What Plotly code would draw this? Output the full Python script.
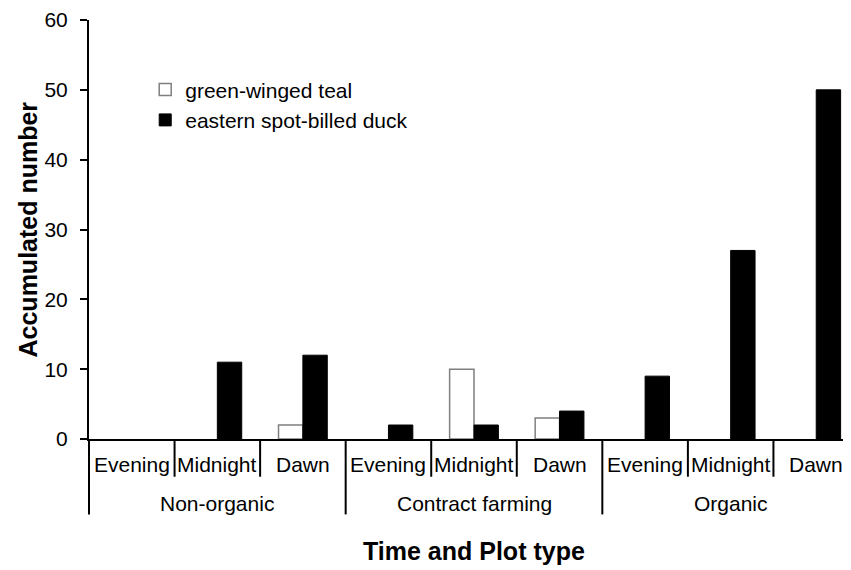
import plotly.graph_objects as go

groups = ["Non-organic", "Contract farming", "Organic"]
times = ["Evening", "Midnight", "Dawn"]
teal = [0, 0, 2, 0, 10, 3, 0, 0, 0]
duck = [0, 11, 12, 2, 2, 4, 9, 27, 50]
y_ticks = [0, 10, 20, 30, 40, 50, 60]

FONT = "Liberation Sans, Arial, sans-serif"
FS = 21
n = len(groups) * len(times)
xpos = list(range(n))


def nz(vals):
    # zero-height bars are not drawn in the reference
    return [v if v else None for v in vals]


fig = go.Figure()
fig.add_trace(go.Bar(x=xpos, y=nz(teal), name="green-winged teal",
                     marker=dict(color="white", line=dict(color="#7f7f7f", width=1.5))))
fig.add_trace(go.Bar(x=xpos, y=nz(duck), name="eastern spot-billed duck",
                     marker=dict(color="black", line=dict(color="black", width=1))))

shapes = []
annotations = []
for gi, g in enumerate(groups):
    x0 = gi * len(times) - 0.5
    if gi > 0:
        shapes.append(dict(type="line", xref="x", yref="paper", x0=x0, x1=x0,
                           y0=0, y1=-0.18, line=dict(color="black", width=2)))
    center = gi * len(times) + (len(times) - 1) / 2
    annotations.append(dict(x=center, y=0, xref="x", yref="paper", text=g,
                            showarrow=False, yshift=-64, yanchor="middle",
                            font=dict(size=FS, color="black", family=FONT)))
    for ti, t in enumerate(times):
        idx = gi * len(times) + ti
        annotations.append(dict(x=idx, y=0, xref="x", yref="paper", text=t,
                                showarrow=False, yshift=-25, yanchor="middle",
                                font=dict(size=FS, color="black", family=FONT)))
        if ti > 0:
            xs = idx - 0.5
            shapes.append(dict(type="line", xref="x", yref="paper", x0=xs, x1=xs,
                               y0=0, y1=-0.09, line=dict(color="black", width=2)))
shapes.append(dict(type="line", xref="paper", yref="paper", x0=0, x1=0,
                   y0=0, y1=-0.18, line=dict(color="black", width=2)))

annotations.append(dict(x=0.5, y=0, xref="paper", yref="paper", text="<b>Time and Plot type</b>",
                        showarrow=False, yshift=-112, yanchor="middle",
                        font=dict(size=25, color="black", family=FONT)))
annotations.append(dict(x=0, y=0.5, xref="paper", yref="paper", text="<b>Accumulated number</b>",
                        showarrow=False, xshift=-62, xanchor="center", yanchor="middle",
                        textangle=-90, font=dict(size=25, color="black", family=FONT)))

fig.update_layout(
    width=851, height=570,
    margin=dict(l=81, r=0, t=9, b=139),
    plot_bgcolor="white", paper_bgcolor="white",
    barmode="group", bargap=0.43, bargroupgap=0,
    showlegend=True,
    legend=dict(x=0.073, y=0.882, xanchor="left", yanchor="top",
                font=dict(size=FS, color="black", family=FONT),
                bgcolor="rgba(0,0,0,0)", tracegroupgap=0, itemwidth=30),
    xaxis=dict(range=[-0.5, n - 0.5], showticklabels=False, showgrid=False,
               zeroline=False, showline=True, linecolor="black", linewidth=2,
               ticks=""),
    yaxis=dict(range=[0, 60], tickvals=y_ticks, showgrid=False, zeroline=False,
               showline=True, linecolor="black", linewidth=2, ticks="outside",
               ticklen=7, tickwidth=2, tickcolor="black", ticklabelstandoff=8,
               ticklabeloverflow="allow",
               tickfont=dict(size=FS, color="black", family=FONT)),
    shapes=shapes,
    annotations=annotations,
)

fig.write_html("out.html")
